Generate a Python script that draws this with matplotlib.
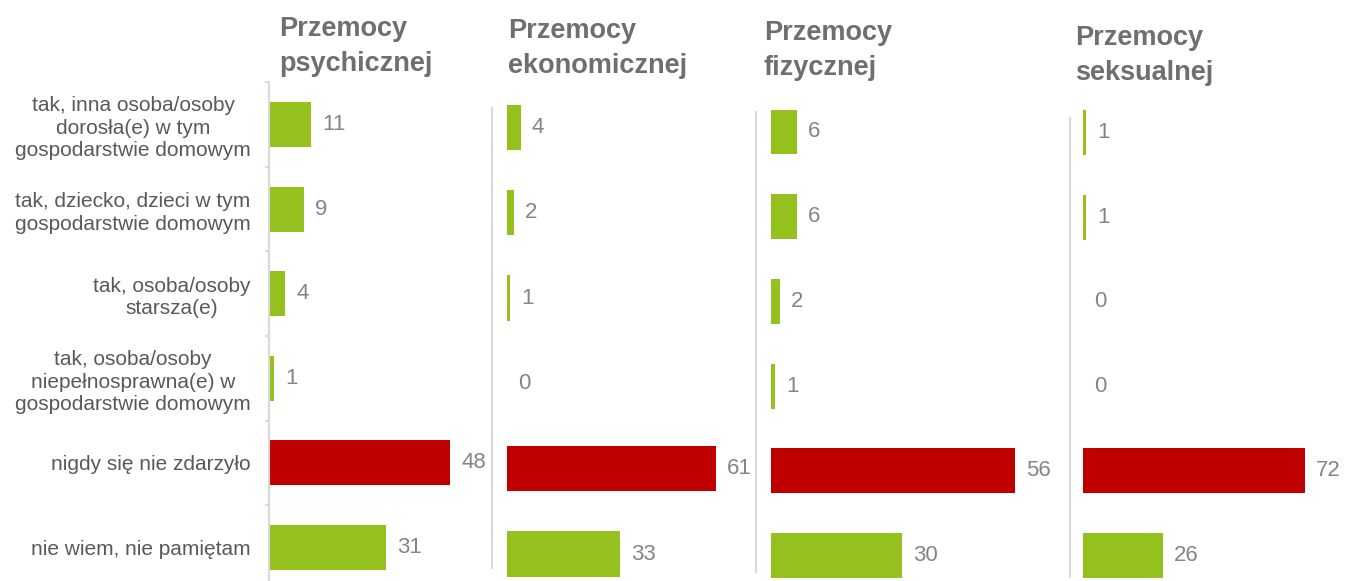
import matplotlib
matplotlib.use('Agg')
import matplotlib.pyplot as plt
import numpy as np

plt.rcParams['font.family'] = ['Liberation Sans', 'DejaVu Sans']

categories = ['tak, inna osoba/osoby\ndorosła(e) w tym\ngospodarstwie domowym',
              'tak, dziecko, dzieci w tym\ngospodarstwie domowym',
              'tak, osoba/osoby\nstarsza(e)',
              'tak, osoba/osoby\nniepełnosprawna(e) w\ngospodarstwie domowym',
              'nigdy się nie zdarzyło',
              'nie wiem, nie pamiętam']
titles = ['Przemocy\npsychicznej', 'Przemocy\nekonomicznej',
          'Przemocy\nfizycznej', 'Przemocy\nseksualnej']
psychiczna = [11, 9, 4, 1, 48, 31]
ekonomiczna = [4, 2, 1, 0, 61, 33]
fizyczna = [6, 6, 2, 1, 56, 30]
seksualna = [1, 1, 0, 0, 72, 26]
series = [psychiczna, ekonomiczna, fizyczna, seksualna]

GREEN = '#95c11f'
RED = '#c00000'
LINE = '#d9d9d9'

W, H = 1346, 581
fig = plt.figure(figsize=(W / 100, H / 100), dpi=100)

# layout in pixels: bar start, first row centre, last row centre, px per unit,
# separator x, separator top, separator bottom, title x, title top
layout = [
    (270, 124.5, 547.5, 3.75, 269, 82, 581, 279, 16),
    (507, 127.5, 554.0, 3.43, 492, 108, 568, 508, 18),
    (771, 132.0, 555.5, 4.36, 756, 112, 572, 764, 20),
    (1083, 132.5, 555.5, 3.08, 1070, 118, 577, 1075, 25),
]

n = len(categories)
y = np.arange(n)
colors = [RED if c == 'nigdy się nie zdarzyło' else GREEN for c in categories]

for i, (vals, lay) in enumerate(zip(series, layout)):
    x0, c0, c1, ppu, lx, ltop, lbot, tx, ttop = lay
    step = (c1 - c0) / (n - 1)
    top = c0 - step / 2
    bot = c1 + step / 2
    width_px = 300
    ax = fig.add_axes([x0 / W, 1 - bot / H, width_px / W, (bot - top) / H])
    ax.set_facecolor('none')
    ax.barh(y, vals, height=0.53, color=colors)
    ax.set_xlim(0, width_px / ppu)
    ax.set_ylim(n - 0.5, -0.5)
    for s in ['top', 'right', 'bottom']:
        ax.spines[s].set_visible(False)
    ax.spines['left'].set_color(LINE)
    ax.spines['left'].set_linewidth(1.5)
    ax.spines['left'].set_position(('outward', (x0 - lx) * 0.72))
    ax.spines['left'].set_bounds(-0.5 + (ltop - top) / step, -0.5 + (lbot - top) / step)
    ax.set_xticks([])
    for yy, v in zip(y, vals):
        ax.annotate(str(v), (v, yy), xytext=(8, 0), textcoords='offset points',
                    va='center', ha='left', fontsize=16, color='#858585')
    if i == 0:
        ax.set_yticks(y)
        ax.set_yticklabels(categories, fontsize=15, color='#595959',
                           multialignment='center', linespacing=1.23)
        ax.set_yticks(np.arange(n + 1) - 0.5, minor=True)
        ax.tick_params(axis='y', which='major', length=0, pad=13)
        ax.tick_params(axis='y', which='minor', length=3, color=LINE, width=1.5)
    else:
        ax.set_yticks([])
    fig.text(tx / W, 1 - ttop / H, titles[i], ha='left', va='top',
             fontsize=19.5, fontweight='bold', color='#6f6f6f', linespacing=1.45)

fig.savefig('out.png', dpi=100)
